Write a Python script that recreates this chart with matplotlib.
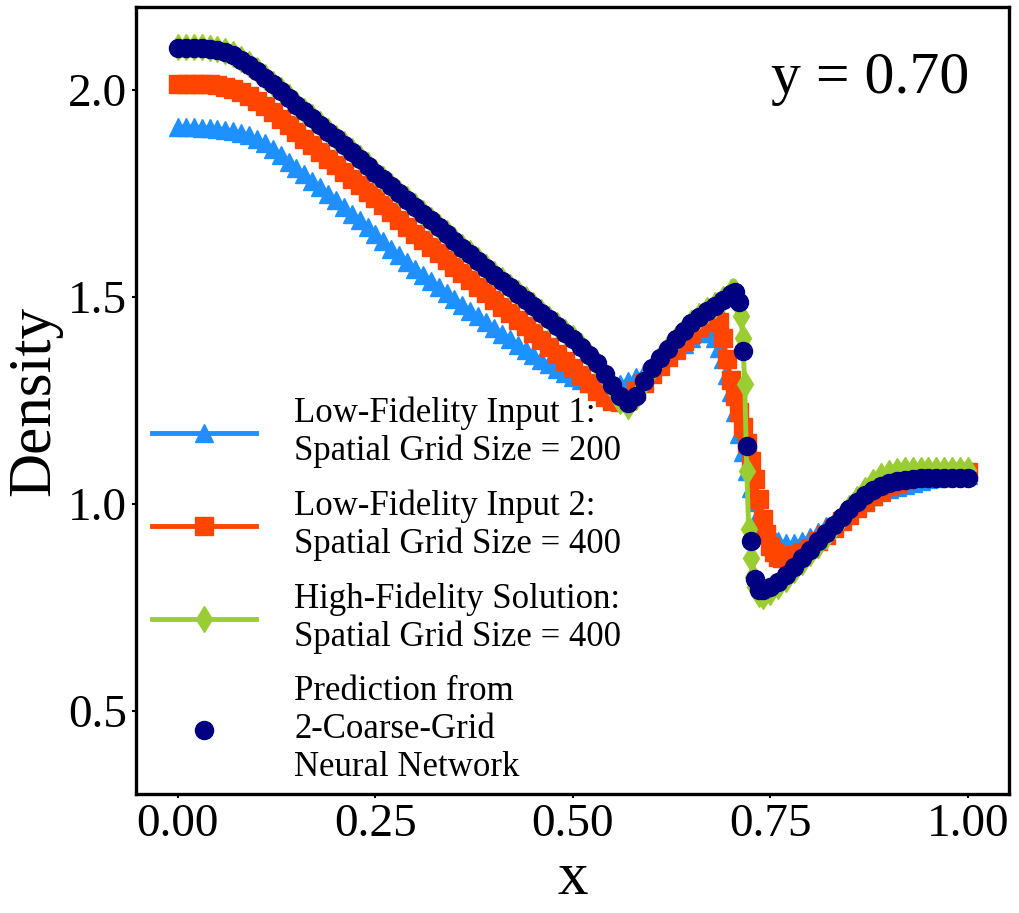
import numpy as np
import matplotlib
matplotlib.use("Agg")
import matplotlib.pyplot as plt

plt.rcParams['font.family'] = ['Liberation Serif', 'DejaVu Serif']

# spatial grid (x = 0.00, 0.01, ..., 1.00)
x_grid = np.linspace(0.0, 1.0, 101)

# Low-fidelity input 1 (grid 200)
low_fi_1 = [
    1.910, 1.910, 1.910, 1.909, 1.908, 1.906, 1.904, 1.901, 1.896, 1.890,
    1.882, 1.871, 1.858, 1.843, 1.827, 1.812, 1.796, 1.781, 1.765, 1.749,
    1.733, 1.717, 1.701, 1.685, 1.668, 1.651, 1.634, 1.617, 1.601, 1.585,
    1.568, 1.553, 1.538, 1.523, 1.509, 1.495, 1.481, 1.467, 1.453, 1.439,
    1.425, 1.411, 1.398, 1.385, 1.373, 1.361, 1.349, 1.338, 1.327, 1.317,
    1.308, 1.300, 1.293, 1.288, 1.285, 1.286, 1.290, 1.297, 1.306, 1.317,
    1.330, 1.344, 1.358, 1.372, 1.386, 1.400, 1.412, 1.418, 1.400, 1.350,
    1.270, 1.170, 1.080, 1.005, 0.955, 0.925, 0.910, 0.905, 0.906, 0.912,
    0.920, 0.932, 0.946, 0.960, 0.974, 0.987, 0.999, 1.010, 1.020, 1.029,
    1.036, 1.042, 1.047, 1.052, 1.056, 1.060, 1.063, 1.066, 1.068, 1.070,
    1.071,
]
low_fi_1_shock_x = [0.665, 0.675, 0.685, 0.695, 0.705, 0.715, 0.725, 0.735, 0.745, 0.755]
low_fi_1_shock_y = [1.416, 1.412, 1.378, 1.312, 1.222, 1.125, 1.040, 0.978, 0.938, 0.916]

# Low-fidelity input 2 (grid 400)
low_fi_2 = [
    2.015, 2.015, 2.015, 2.014, 2.013, 2.011, 2.007, 2.001, 1.994, 1.985,
    1.974, 1.961, 1.946, 1.930, 1.914, 1.898, 1.882, 1.866, 1.850, 1.834,
    1.818, 1.802, 1.786, 1.770, 1.754, 1.738, 1.721, 1.704, 1.687, 1.670,
    1.653, 1.637, 1.621, 1.605, 1.589, 1.573, 1.557, 1.541, 1.525, 1.509,
    1.493, 1.477, 1.461, 1.445, 1.429, 1.413, 1.396, 1.379, 1.362, 1.345,
    1.328, 1.311, 1.293, 1.274, 1.258, 1.248, 1.247, 1.256, 1.272, 1.292,
    1.313, 1.334, 1.355, 1.375, 1.394, 1.411, 1.427, 1.440, 1.448, 1.400,
    1.300, 1.222, 1.148, 1.060, 0.965, 0.900, 0.872, 0.870, 0.876, 0.885,
    0.895, 0.910, 0.926, 0.942, 0.958, 0.974, 0.990, 1.005, 1.019, 1.032,
    1.043, 1.052, 1.059, 1.065, 1.069, 1.072, 1.074, 1.076, 1.077, 1.078,
    1.078,
]
low_fi_2_shock_x = [0.675, 0.685, 0.695, 0.705, 0.715, 0.725, 0.735, 0.745, 0.755, 0.765]
low_fi_2_shock_y = [1.445, 1.440, 1.350, 1.260, 1.185, 1.105, 1.012, 0.928, 0.884, 0.870]

# High-fidelity solution (grid 400), plus extra points across the shock
high_fi = [
    2.103, 2.104, 2.104, 2.103, 2.102, 2.099, 2.094, 2.086, 2.075, 2.062,
    2.047, 2.031, 2.015, 1.999, 1.983, 1.966, 1.950, 1.934, 1.918, 1.901,
    1.885, 1.869, 1.852, 1.836, 1.819, 1.802, 1.786, 1.769, 1.752, 1.736,
    1.720, 1.703, 1.687, 1.670, 1.654, 1.637, 1.621, 1.605, 1.589, 1.572,
    1.555, 1.540, 1.525, 1.510, 1.495, 1.480, 1.464, 1.448, 1.432, 1.416,
    1.400, 1.381, 1.360, 1.337, 1.310, 1.283, 1.250, 1.236, 1.258, 1.294,
    1.327, 1.352, 1.376, 1.399, 1.420, 1.438, 1.454, 1.468, 1.480, 1.494,
    1.512, 1.480, 1.080, 0.800, 0.778, 0.788, 0.803, 0.820, 0.840, 0.860,
    0.881, 0.902, 0.924, 0.946, 0.968, 0.990, 1.012, 1.034, 1.054, 1.068,
    1.076, 1.080, 1.082, 1.082, 1.082, 1.082, 1.082, 1.082, 1.082, 1.082,
    1.082,
]
high_fi_shock_x = [0.7025, 0.705, 0.7075, 0.7125, 0.715, 0.7175, 0.7225, 0.725, 0.7275, 0.735]
high_fi_shock_y = [1.515, 1.513, 1.500, 1.455, 1.400, 1.290, 0.940, 0.870, 0.825, 0.782]

# Prediction from 2-coarse-grid neural network
prediction = [
    2.100, 2.101, 2.101, 2.100, 2.099, 2.096, 2.091, 2.083, 2.073, 2.060,
    2.045, 2.029, 2.013, 1.997, 1.981, 1.964, 1.948, 1.932, 1.916, 1.899,
    1.883, 1.867, 1.850, 1.834, 1.817, 1.800, 1.784, 1.767, 1.750, 1.734,
    1.718, 1.701, 1.685, 1.668, 1.652, 1.635, 1.619, 1.603, 1.587, 1.570,
    1.553, 1.538, 1.523, 1.508, 1.493, 1.478, 1.462, 1.446, 1.430, 1.414,
    1.398, 1.380, 1.361, 1.340, 1.315, 1.288, 1.260, 1.244, 1.262, 1.296,
    1.328, 1.352, 1.375, 1.398, 1.418, 1.436, 1.452, 1.466, 1.478, 1.492,
    1.508, 1.487, 1.140, 0.820, 0.793, 0.800, 0.812, 0.828, 0.848, 0.869,
    0.890, 0.910, 0.930, 0.950, 0.970, 0.989, 1.006, 1.021, 1.034, 1.044,
    1.051, 1.056, 1.059, 1.061, 1.062, 1.062, 1.062, 1.062, 1.062, 1.062,
    1.062,
]
pred_shock_x = [0.705, 0.715, 0.725, 0.735]
pred_shock_y = [1.511, 1.370, 0.911, 0.792]

series_labels = [
    "Low-Fidelity Input 1:\nSpatial Grid Size = 200",
    "Low-Fidelity Input 2:\nSpatial Grid Size = 400",
    "High-Fidelity Solution:\nSpatial Grid Size = 400",
    "Prediction from\n2-Coarse-Grid\nNeural Network",
]


def merge(xa, ya, xb, yb):
    # adds the refined shock points to the regular grid, sorted by x
    x = np.concatenate([xa, xb])
    y = np.concatenate([ya, yb])
    order = np.argsort(x, kind='stable')
    return x[order], y[order]


lf1_x, lf1_y = merge(x_grid, low_fi_1, low_fi_1_shock_x, low_fi_1_shock_y)
lf2_x, lf2_y = merge(x_grid, low_fi_2, low_fi_2_shock_x, low_fi_2_shock_y)
hf_x, hf_y = merge(x_grid, high_fi, high_fi_shock_x, high_fi_shock_y)
pr_x, pr_y = merge(x_grid, prediction, pred_shock_x, pred_shock_y)

fig = plt.figure(figsize=(10.19, 9.13), dpi=100)
ax = fig.add_axes([0.1335, 0.1303, 0.8567, 0.862])

ax.plot(lf1_x, lf1_y, color='dodgerblue', marker='^', ms=13, lw=3.5,
        label=series_labels[0])
ax.plot(lf2_x, lf2_y, color='orangered', marker='s', ms=12.5, lw=3.5,
        label=series_labels[1])
ax.plot(hf_x, hf_y, color='yellowgreen', marker='d', ms=13.5, lw=3.5,
        label=series_labels[2])
ax.plot(pr_x, pr_y, color='navy', marker='o', ms=13, ls='none',
        label=series_labels[3])

ax.set_xlim(-0.053, 1.052)
ax.set_ylim(0.3, 2.2)
ax.set_xticks([0.0, 0.25, 0.5, 0.75, 1.0])
ax.set_yticks([0.5, 1.0, 1.5, 2.0])
ax.xaxis.set_major_formatter('{x:.2f}')
ax.yaxis.set_major_formatter('{x:.1f}')
ax.tick_params(labelsize=34, length=3, width=1.5)
for sp in ax.spines.values():
    sp.set_linewidth(2.4)

ax.set_xlabel('x', fontsize=44)
ax.set_ylabel('Density', fontsize=44)
ax.text(0.955, 0.891, 'y = 0.70', transform=ax.transAxes, ha='right',
        va='baseline', fontsize=43)

ax.legend(loc='lower left', bbox_to_anchor=(0.002, -0.005), borderaxespad=0,
          frameon=False, fontsize=25, handlelength=3.0, handletextpad=1.1,
          labelspacing=0.6)

fig.savefig('out.png', dpi=100)
